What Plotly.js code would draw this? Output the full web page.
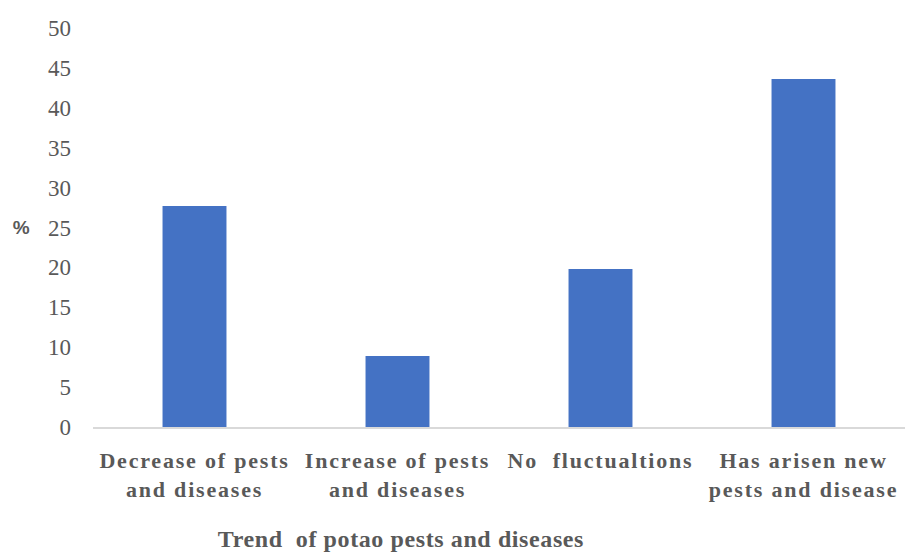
<!DOCTYPE html>
<html>
<head>
<meta charset="utf-8">
<script src="https://cdn.plot.ly/plotly-3.0.1.min.js"></script>
<style>
html,body{margin:0;padding:0;background:#fff;}
#chart{width:905px;height:554px;}
#chart .xtick text{letter-spacing:1.8px;}
#chart .annotation-text{letter-spacing:0.6px;}
</style>
</head>
<body>
<div id="chart"></div>
<script>
const categories = ["Decrease of pests<br>and diseases", "Increase of pests<br>and diseases", "No  fluctualtions", "Has arisen new<br>pests and disease"];
const values = [27.7, 8.9, 19.8, 43.6];
const yTicks = [0, 5, 10, 15, 20, 25, 30, 35, 40, 45, 50];
const xTitle = "Trend  of potao pests and diseases";
const yTitle = "%";

const serif = "serif";
const gray = "#595959";

Plotly.newPlot("chart", [{
  type: "bar",
  x: categories,
  y: values,
  marker: {color: "#4472c4"},
  hoverinfo: "x+y"
}], {
  width: 905, height: 554,
  margin: {l: 93, r: 0, t: 28, b: 127},
  paper_bgcolor: "#fff", plot_bgcolor: "#fff",
  bargap: 0.685,
  showlegend: false,
  xaxis: {
    type: "category",
    showline: true, linecolor: "#d9d9d9", linewidth: 2,
    ticks: "", showgrid: false, zeroline: false,
    tickfont: {family: serif, size: 22, color: gray, weight: "bold"},
    tickangle: 0,
    ticklabelstandoff: 13
  },
  yaxis: {
    range: [0, 50], tickvals: yTicks, ticks: "", showgrid: false, zeroline: false,
    showline: false,
    tickfont: {family: serif, size: 23, color: gray},
    ticklabelstandoff: 21
  },
  annotations: [
    {text: yTitle, xref: "paper", yref: "paper", x: -0.075, y: 0.5, xanchor: "right", yanchor: "middle",
     showarrow: false, font: {family: "sans-serif", size: 19, color: gray, weight: "bold"}},
    {text: xTitle, xref: "paper", yref: "paper", x: 0.379, y: -0.2815, xanchor: "center", yanchor: "middle",
     showarrow: false, font: {family: serif, size: 24, color: gray, weight: "bold"}}
  ]
}, {displayModeBar: false, staticPlot: true});
</script>
</body>
</html>
